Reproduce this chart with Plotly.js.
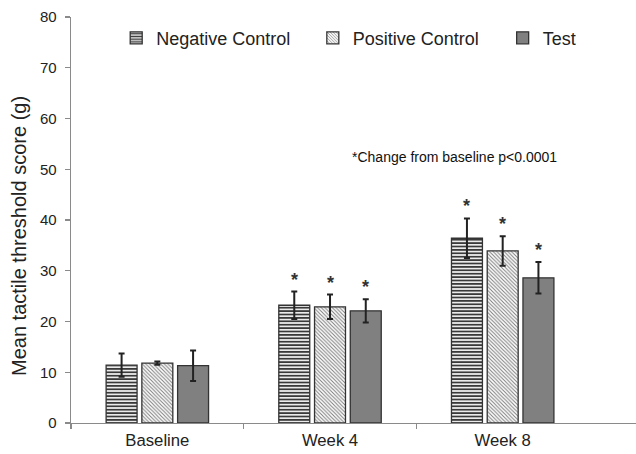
<!DOCTYPE html>
<html>
<head>
<meta charset="utf-8">
<script src="https://cdn.plot.ly/plotly-3.0.1.min.js"></script>
<style>html,body{margin:0;padding:0;background:#fff}#chart{width:636px;height:454px}</style>
</head>
<body>
<div id="chart"></div>
<script>
var categories = ["Baseline", "Week 4", "Week 8"];
var seriesNames = ["Negative Control", "Positive Control", "Test"];
var negativeControl = [11.4, 23.2, 36.4];
var negativeControlErr = [2.3, 2.7, 3.9];
var positiveControl = [11.8, 22.9, 33.9];
var positiveControlErr = [0.3, 2.4, 2.9];
var testValues = [11.3, 22.1, 28.6];
var testErr = [3.0, 2.3, 3.1];
var significant = [false, true, true];
var yTicks = [0, 10, 20, 30, 40, 50, 60, 70, 80];
var yTitle = "Mean tactile threshold score (g)";
var noteText = "*Change from baseline p<0.0001";

var xIdx = categories.map(function (c, i) { return i; });
var FONT = "Liberation Sans, Arial, sans-serif";
var bargap = 0.379, bargroupgap = 0.134;
var slot = (1 - bargap) / 3;

var styles = [
  {color: "#ffffff", line: "#333333", pattern: {shape: "-", fgcolor: "#3a3a3a", bgcolor: "#ffffff", size: 3.4, solidity: 0.55}},
  {color: "#ffffff", line: "#333333", pattern: {shape: "\\", fgcolor: "#808080", bgcolor: "#ffffff", size: 2.6, solidity: 0.4}},
  {color: "#808080", line: "#333333", pattern: null}
];
var legendIds = ["legend", "legend2", "legend3"];
var legendX = [0.080, 0.428, 0.764];
var vals = [negativeControl, positiveControl, testValues];
var errs = [negativeControlErr, positiveControlErr, testErr];

var traces = vals.map(function (v, k) {
  var m = {color: styles[k].color, line: {color: styles[k].line, width: 1.3}};
  if (styles[k].pattern) m.pattern = styles[k].pattern;
  return {
    type: "bar", name: seriesNames[k], x: xIdx, y: v, legend: legendIds[k],
    marker: m,
    error_y: {type: "data", array: errs[k], visible: true, color: "#222222", thickness: 2, width: 3},
    hoverinfo: "skip"
  };
});

var annotations = [];
significant.forEach(function (s, i) {
  if (!s) return;
  for (var k = 0; k < 3; k++) {
    annotations.push({
      x: i + (k - 1) * slot, y: vals[k][i] + errs[k][i], xref: "x", yref: "y",
      text: "<b>*</b>", showarrow: false, yanchor: "bottom", yshift: 0,
      font: {family: FONT, size: 18, color: "#333333"}
    });
  }
});
annotations.push({
  x: 1.718, y: 52.5, xref: "x", yref: "y", text: noteText, showarrow: false,
  font: {family: FONT, size: 14, color: "#111111"}
});
annotations.push({
  x: -0.092, y: 0.4606, xref: "paper", yref: "paper", text: yTitle, showarrow: false,
  textangle: -90, xanchor: "center", yanchor: "middle",
  font: {family: FONT, size: 20, color: "#222222"}
});

var layout = {
  width: 636, height: 454,
  margin: {l: 71, r: 0, t: 17, b: 31, pad: 0},
  paper_bgcolor: "#ffffff", plot_bgcolor: "#ffffff",
  barmode: "group", bargap: bargap, bargroupgap: bargroupgap,
  font: {family: FONT, color: "#222222"},
  showlegend: true,
  xaxis: {
    type: "linear", range: [-0.5, 2.772], tickvals: xIdx, ticktext: categories,
    ticks: "", showline: true, linecolor: "#8a8a8a", linewidth: 1.3,
    showgrid: false, zeroline: false, automargin: false, ticklabelstandoff: 2,
    tickfont: {family: FONT, size: 16.7, color: "#222222"},
    minor: {tickmode: "array", tickvals: [-0.5, 0.5, 1.5], ticks: "outside", ticklen: 5, tickwidth: 1.3, tickcolor: "#8a8a8a", showgrid: false}
  },
  yaxis: {
    range: [0, 80], tickvals: yTicks, ticks: "outside", ticklen: 5, tickwidth: 1.3, tickcolor: "#8a8a8a",
    showline: true, linecolor: "#8a8a8a", linewidth: 1.3, showgrid: false, zeroline: false, automargin: false,
    ticklabelstandoff: 5,
    tickfont: {family: FONT, size: 15, color: "#222222"}
  },
  annotations: annotations
};
legendIds.forEach(function (id, k) {
  layout[id] = {
    orientation: "h", x: legendX[k], y: 0.948, xanchor: "left", yanchor: "middle",
    bgcolor: "rgba(0,0,0,0)", font: {family: FONT, size: 18, color: "#222222"},
    itemwidth: 30
  };
});

Plotly.newPlot("chart", traces, layout, {displayModeBar: false, staticPlot: true});
</script>
</body>
</html>
